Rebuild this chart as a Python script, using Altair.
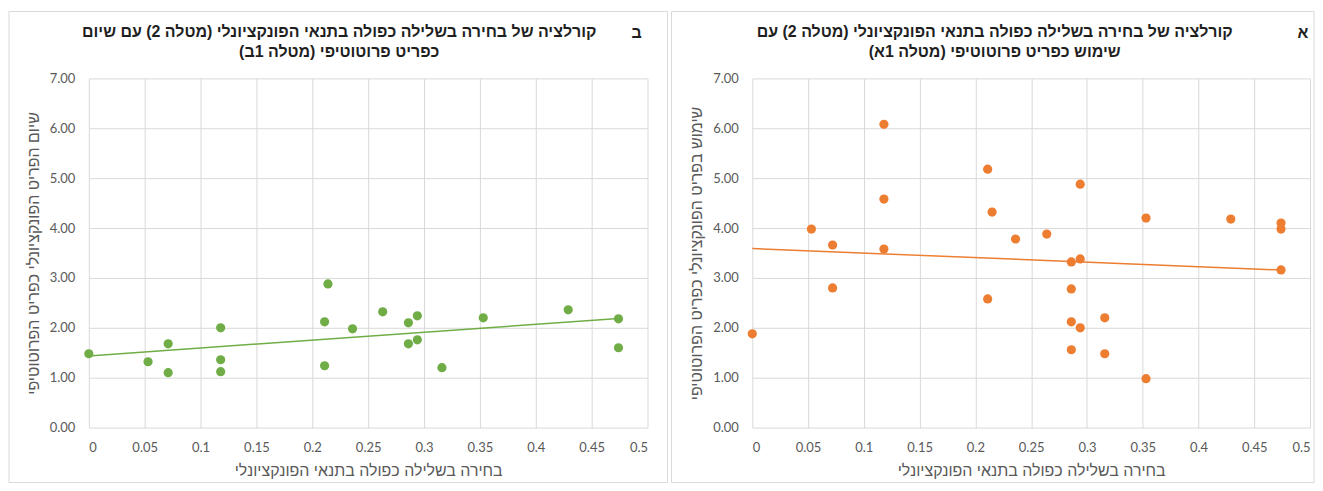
import altair as alt
import pandas as pd

# ---------------- data ----------------
# Panel ב (left, green)
b_x = [0, 0.053, 0.071, 0.071, 0.118, 0.118, 0.118, 0.211, 0.214, 0.211, 0.236,
       0.263, 0.286, 0.294, 0.286, 0.294, 0.316, 0.353, 0.429, 0.474, 0.474]
b_y = [1.48, 1.32, 1.68, 1.10, 2.00, 1.36, 1.12, 2.12, 2.88, 1.24, 1.98,
       2.32, 2.10, 2.24, 1.68, 1.76, 1.20, 2.20, 2.36, 2.18, 1.60]

# Panel א (right, orange)
a_x = [0.118, 0.118, 0.118, 0.211, 0.211, 0.215, 0.053, 0.072, 0.072, 0.236, 0,
       0.294, 0.294, 0.294, 0.353, 0.353, 0.429, 0.474, 0.474, 0.474, 0.264,
       0.286, 0.286, 0.286, 0.286, 0.316, 0.316]
a_y = [6.08, 4.58, 3.58, 5.18, 2.58, 4.32, 3.98, 3.66, 2.80, 3.78, 1.88,
       4.88, 3.38, 2.00, 4.20, 0.98, 4.18, 4.10, 3.98, 3.16, 3.88,
       3.32, 2.78, 2.12, 1.56, 2.20, 1.48]

x_ticks = [0, 0.05, 0.1, 0.15, 0.2, 0.25, 0.3, 0.35, 0.4, 0.45, 0.5]
y_ticks = [0, 1, 2, 3, 4, 5, 6, 7]

RLM = "\u200f"
x_title = "בחירה בשלילה כפולה בתנאי הפונקציונלי"
b_y_title = "שיום הפריט הפונקציונלי כפריט הפרוטוטיפי"
a_y_title = "שימוש בפריט הפונקציונלי כפריט הפרוטוטיפי"
b_title = [RLM + "קורלציה של בחירה בשלילה כפולה בתנאי הפונקציונלי (מטלה 2) עם שיום" + RLM,
           RLM + "כפריט פרוטוטיפי (מטלה 1ב)" + RLM]
a_title = [RLM + "קורלציה של בחירה בשלילה כפולה בתנאי הפונקציונלי (מטלה 2) עם" + RLM,
           RLM + "שימוש כפריט פרוטוטיפי (מטלה 1א)" + RLM]
b_letter = "ב"
a_letter = "א"

GREEN = "#70ad47"
ORANGE = "#ed7d31"
HEB_FONT = "Liberation Sans"
NUM_FONT = "Lato"
TITLE_COLOR = "#1f1f1f"


def panel(xs, ys, color, title_lines, letter, y_title, w, frame_x, frame_x2,
          title_cx, letter_x):
    df = pd.DataFrame({"x": xs, "y": ys})
    one = pd.DataFrame({"k": [0]})
    xenc = alt.X("x:Q", scale=alt.Scale(domain=[0, 0.5], nice=False, zero=False),
                 axis=alt.Axis(values=x_ticks, format="~g", title=x_title,
                               labelPadding=14, titlePadding=8))
    yenc = alt.Y("y:Q", scale=alt.Scale(domain=[0, 7], nice=False),
                 axis=alt.Axis(values=y_ticks, format=".2f", title=y_title,
                               labelPadding=14, titlePadding=8))
    base = alt.Chart(df)
    pts = base.mark_circle(size=85, color=color, opacity=1).encode(x=xenc, y=yenc)
    line = base.transform_regression("x", "y").mark_line(
        color=color, strokeWidth=1.5).encode(x="x:Q", y="y:Q")
    frame = alt.Chart(one).mark_rect(fillOpacity=0, stroke="#d9d9d9",
                                     strokeWidth=1).encode(
        x=alt.value(frame_x), x2=alt.value(frame_x2),
        y=alt.value(-67), y2=alt.value(405))
    title = alt.Chart(one).mark_text(
        font=HEB_FONT, fontSize=16, fontWeight="bold", align="center",
        baseline="top", lineHeight=20, color=TITLE_COLOR).encode(
        x=alt.value(title_cx), y=alt.value(-54), text=alt.value(title_lines))
    let = alt.Chart(one).mark_text(
        font=HEB_FONT, fontSize=16, fontWeight="bold", align="center",
        baseline="middle", color=TITLE_COLOR).encode(
        x=alt.value(letter_x), y=alt.value(-45), text=alt.value(letter))
    return alt.layer(frame, line, pts, title, let).properties(width=w, height=350)


left = panel(b_x, b_y, GREEN, b_title, b_letter, b_y_title, 560, -80, 580, 251, 549)
right = panel(a_x, a_y, ORANGE, a_title, a_letter, a_y_title, 559, -81, 563, 243, 552)

chart = alt.hconcat(left, right, spacing=2).configure(
    padding={"top": 2, "left": 0, "right": 0, "bottom": 0}
).configure_view(strokeWidth=0).configure_axis(
    grid=True, gridColor="#d9d9d9", gridWidth=1, domain=False, ticks=False,
    labelColor="#595959", labelFont=NUM_FONT, labelFontSize=13,
    titleColor="#595959", titleFont=HEB_FONT, titleFontSize=16,
    titleFontWeight="normal"
)

chart.save("out.html", embed_options={"renderer": "svg", "actions": False})
